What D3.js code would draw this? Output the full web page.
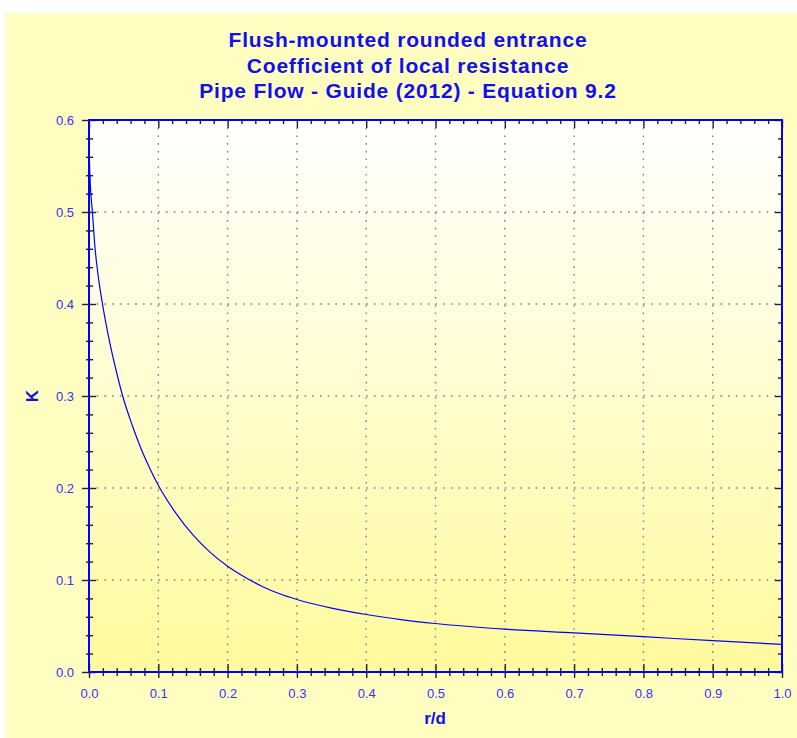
<!DOCTYPE html>
<html>
<head>
<meta charset="utf-8">
<script src="https://cdn.jsdelivr.net/npm/d3@7"></script>
<style>
  body { margin: 0; background: #ffffff; }
  text { font-family: "Liberation Sans", Arial, sans-serif; }
  .tick text { fill: #3333ff; font-size: 13px; }
  .domain { display: none; }
</style>
</head>
<body>
<svg id="chart" width="797" height="738"></svg>
<script>
// values
var titleLines = ["Flush-mounted rounded entrance",
                  "Coefficient of local resistance",
                  "Pipe Flow - Guide (2012) - Equation 9.2"];
var rd = [0, 0.002, 0.0049, 0.0087, 0.013, 0.019, 0.03, 0.04, 0.0486, 0.0625, 0.075, 0.088, 0.1, 0.125, 0.15, 0.175, 0.2, 0.2275, 0.25, 0.275, 0.3, 0.35, 0.4, 0.45, 0.5, 0.6, 0.7, 0.8, 0.9, 1.0];
var kValues = [0.567, 0.528, 0.5, 0.461, 0.432, 0.402, 0.358, 0.325, 0.3, 0.268, 0.243, 0.221, 0.203, 0.173, 0.149, 0.13, 0.115, 0.102, 0.093, 0.085, 0.0788, 0.0695, 0.0625, 0.057, 0.0527, 0.0466, 0.0426, 0.0384, 0.034, 0.030];
var xTicks = [0, 0.1, 0.2, 0.3, 0.4, 0.5, 0.6, 0.7, 0.8, 0.9, 1.0];
var yTicks = [0, 0.1, 0.2, 0.3, 0.4, 0.5, 0.6];

var margin = {top: 120, right: 15, bottom: 66, left: 89},
    width = 782 - margin.left,
    height = 672 - margin.top;

var svg = d3.select("#chart");

// outer background
svg.append("rect")
    .attr("x", 5).attr("y", 13)
    .attr("width", 792).attr("height", 725)
    .attr("fill", "#fffdc0");

var defs = svg.append("defs");
var grad = defs.append("linearGradient")
    .attr("id", "plotGrad")
    .attr("x1", 0).attr("y1", 0).attr("x2", 0).attr("y2", 1);
grad.append("stop").attr("offset", "0%").attr("stop-color", "#ffffff");
grad.append("stop").attr("offset", "100%").attr("stop-color", "#fffa9c");

var x = d3.scaleLinear().domain([0, 1]).range([0, width]);
var y = d3.scaleLinear().domain([0, 0.6]).range([height, 0]);

var g = svg.append("g")
    .attr("transform", "translate(" + margin.left + "," + margin.top + ")");

g.append("rect")
    .attr("width", width).attr("height", height)
    .attr("fill", "url(#plotGrad)");

// grid
g.append("g").selectAll("line")
    .data(xTicks.slice(1, -1))
    .enter().append("line")
    .attr("x1", function(d) { return x(d); })
    .attr("x2", function(d) { return x(d); })
    .attr("y1", 0).attr("y2", height)
    .attr("stroke", "#808080").attr("stroke-width", 1.4)
    .attr("stroke-dasharray", "1.6,6.1");

g.append("g").selectAll("line")
    .data(yTicks.slice(1, -1))
    .enter().append("line")
    .attr("y1", function(d) { return y(d); })
    .attr("y2", function(d) { return y(d); })
    .attr("x1", 0).attr("x2", width)
    .attr("stroke", "#808080").attr("stroke-width", 1.4)
    .attr("stroke-dasharray", "1.6,6.1");

var minorX = d3.range(0, 51).map(function(i) { return i / 50; })
    .filter(function(d, i) { return i % 5 !== 0; });
var minorY = d3.range(0, 31).map(function(i) { return i / 50; })
    .filter(function(d, i) { return i % 5 !== 0; });

function tickStyle(sel) {
    sel.selectAll(".tick line").attr("stroke", "#222").attr("stroke-width", 1.4);
}

// bottom axis: major crossing ticks with labels
var xAxis = g.append("g")
    .attr("transform", "translate(0," + height + ")")
    .call(d3.axisBottom(x).tickValues(xTicks).tickFormat(d3.format(".1f")).tickSize(6).tickPadding(11));
xAxis.selectAll(".tick line").attr("y1", -8);
tickStyle(xAxis);
var xMinor = g.append("g")
    .attr("transform", "translate(0," + height + ")")
    .call(d3.axisBottom(x).tickValues(minorX).tickFormat("").tickSize(4));
xMinor.selectAll(".tick line").attr("y1", -4);
tickStyle(xMinor);

// top axis: inward ticks
var xTop = g.append("g")
    .call(d3.axisTop(x).tickValues(xTicks).tickFormat("").tickSize(-8));
tickStyle(xTop);
var xTopMinor = g.append("g")
    .call(d3.axisTop(x).tickValues(minorX).tickFormat("").tickSize(-4));
tickStyle(xTopMinor);

// left axis
var yAxis = g.append("g")
    .call(d3.axisLeft(y).tickValues(yTicks).tickFormat(d3.format(".1f")).tickSize(7).tickPadding(8));
yAxis.selectAll(".tick line").attr("x1", 7);
tickStyle(yAxis);
var yMinor = g.append("g")
    .call(d3.axisLeft(y).tickValues(minorY).tickFormat("").tickSize(3));
yMinor.selectAll(".tick line").attr("x1", 4);
tickStyle(yMinor);

// right axis: inward ticks
var yRight = g.append("g")
    .attr("transform", "translate(" + width + ",0)")
    .call(d3.axisRight(y).tickValues(yTicks).tickFormat("").tickSize(-7));
tickStyle(yRight);
var yRightMinor = g.append("g")
    .attr("transform", "translate(" + width + ",0)")
    .call(d3.axisRight(y).tickValues(minorY).tickFormat("").tickSize(-4));
tickStyle(yRightMinor);

// frame
g.append("rect")
    .attr("width", width).attr("height", height)
    .attr("fill", "none").attr("stroke", "#0000ff").attr("stroke-width", 2);

// curve
var data = rd.map(function(d, i) { return {rd: d, k: kValues[i]}; });
var line = d3.line()
    .x(function(d) { return x(d.rd); })
    .y(function(d) { return y(d.k); })
    .curve(d3.curveMonotoneX);
g.append("path")
    .datum(data)
    .attr("fill", "none")
    .attr("stroke", "#0000ff")
    .attr("stroke-width", 1.2)
    .attr("d", line);

// titles
svg.append("g").selectAll("text")
    .data(titleLines)
    .enter().append("text")
    .attr("x", 408)
    .attr("y", function(d, i) { return 47 + i * 25.5; })
    .attr("text-anchor", "middle")
    .attr("fill", "#1010ee")
    .style("font-weight", "bold")
    .style("font-size", "21px")
    .style("letter-spacing", "0.8px")
    .text(function(d) { return d; });

svg.append("text")
    .attr("x", 435).attr("y", 724)
    .attr("text-anchor", "middle")
    .attr("fill", "#1010ee")
    .style("font-weight", "bold")
    .style("font-size", "17px")
    .text("r/d");

svg.append("text")
    .attr("transform", "translate(38," + (margin.top + height / 2) + ") rotate(-90)")
    .attr("text-anchor", "middle")
    .attr("fill", "#1010ee")
    .style("font-weight", "bold")
    .style("font-size", "17px")
    .text("K");
</script>
</body>
</html>
